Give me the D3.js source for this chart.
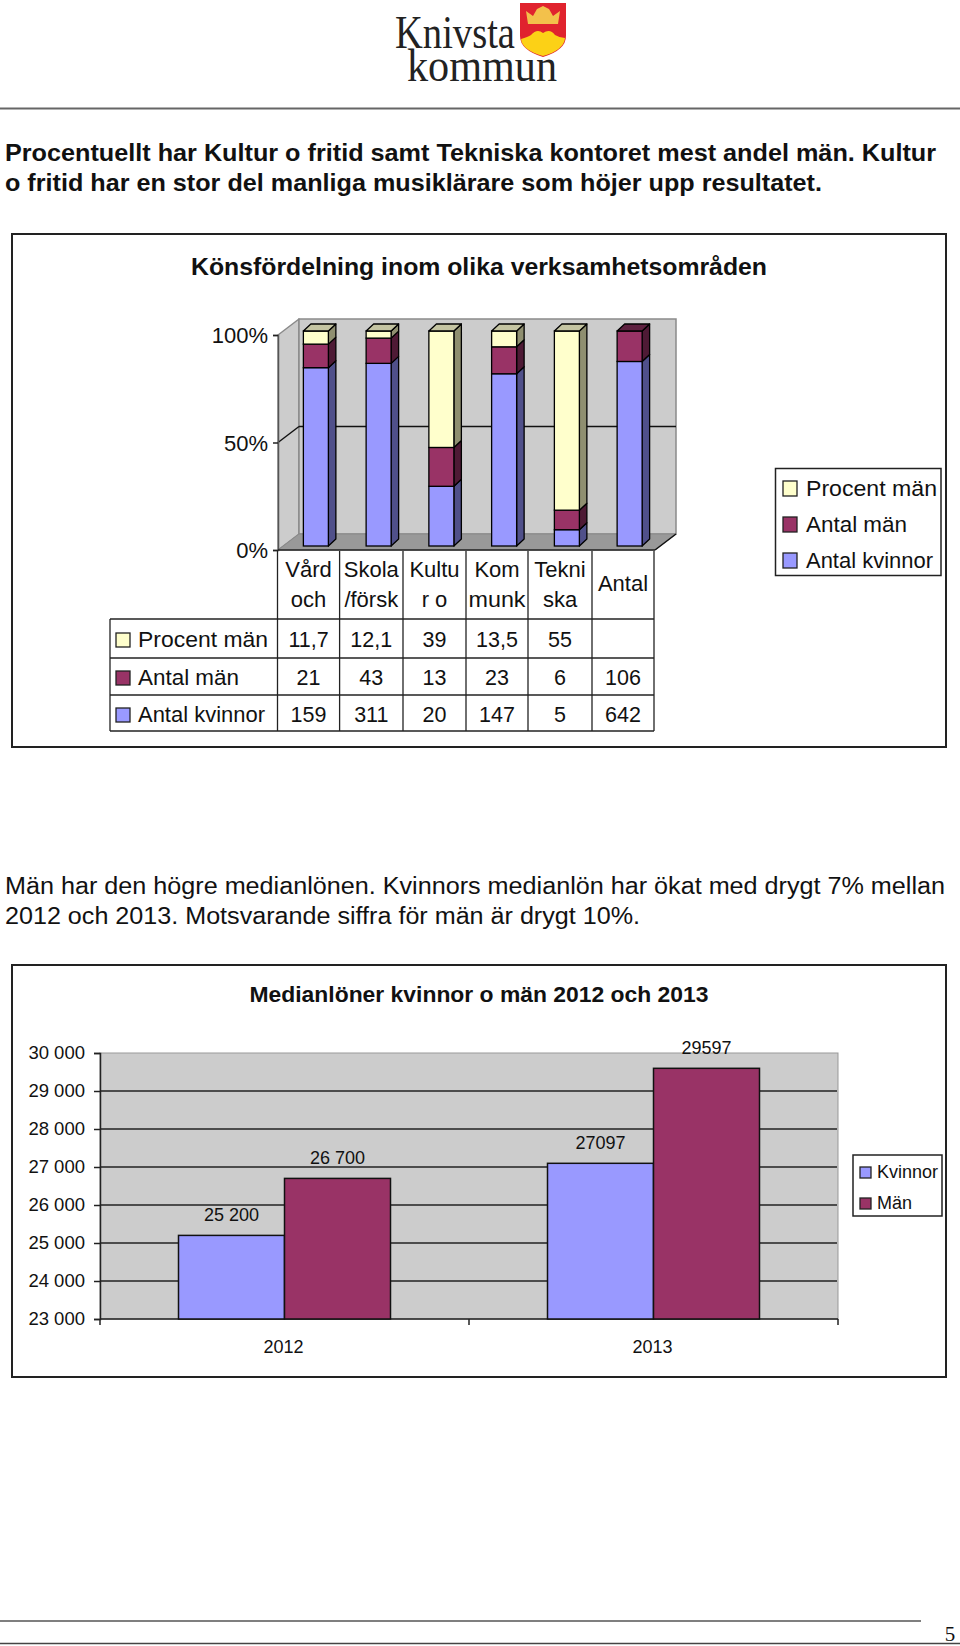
<!DOCTYPE html>
<html><head><meta charset="utf-8">
<script src="https://cdnjs.cloudflare.com/ajax/libs/d3/7.8.5/d3.min.js"></script>
<style>html,body{margin:0;padding:0;background:#fff}svg{display:block}text{font-family:"Liberation Sans",Arial,sans-serif;fill:#111}</style>
</head><body><svg id="c" width="960" height="1646"></svg>
<script>
const intro1 = ["Procentuellt har Kultur o fritid samt Tekniska kontoret mest andel män. Kultur","o fritid har en stor del manliga musiklärare som höjer upp resultatet."];
const intro2 = ["Män har den högre medianlönen. Kvinnors medianlön har ökat med drygt 7% mellan","2012 och 2013. Motsvarande siffra för män är drygt 10%."];
const title1 = "Könsfördelning inom olika verksamhetsområden";
const title2 = "Medianlöner kvinnor o män 2012 och 2013";
const areaLabels = [["Vård","och"],["Skola","/försk"],["Kultu","r o"],["Kom","munk"],["Tekni","ska"],["Antal"]];
const areaKeys = ["Vård","Skola","Kultur","Kommunk","Tekniska","Antal"];
const procentMan = [11.7,12.1,39,13.5,55,null];
const antalMan = [21,43,13,23,6,106];
const antalKvinnor = [159,311,20,147,5,642];
const procentLabels = ["11,7","12,1","39","13,5","55",""];
const pctTicks = [0,0.5,1];
const seriesNames = ["Procent män","Antal män","Antal kvinnor"];
const years = ["2012","2013"];
const salarySeries = ["Kvinnor","Män"];
const lonKvinnor = [25200,27097];
const lonMan = [26700,29597];
const lonLabelsKvinnor = ["25 200","27097"];
const lonLabelsMan = ["26 700","29597"];
const salaryTicks = [23000,24000,25000,26000,27000,28000,29000,30000];

const BLUE="#9999ff",RED="#993366",YEL="#ffffcc";
const svg=d3.select("#c");
const T=(p,x,y,s,size,o={})=>{const t=p.append("text").attr("x",x).attr("y",y).attr("font-size",size).text(s);
  if(o.anchor)t.attr("text-anchor",o.anchor); if(o.bold)t.attr("font-weight","bold"); if(o.family)t.style("font-family",o.family);
  if(o.fill)t.style("fill",o.fill);
  if(o.len)t.attr("textLength",o.len).attr("lengthAdjust","spacingAndGlyphs"); return t;};
const L=(p,x1,y1,x2,y2,c,w)=>p.append("line").attr("x1",x1).attr("y1",y1).attr("x2",x2).attr("y2",y2).attr("stroke",c).attr("stroke-width",w);
const R=(p,x,y,w,h,f,s,sw)=>p.append("rect").attr("x",x).attr("y",y).attr("width",w).attr("height",h).attr("fill",f).attr("stroke",s||"none").attr("stroke-width",sw||0);
const P=(p,pts,f,s,sw)=>p.append("polygon").attr("points",pts.map(d=>d.join(",")).join(" ")).attr("fill",f).attr("stroke",s||"none").attr("stroke-width",sw||0).attr("stroke-linejoin","round");

// header / logo
const logo=svg.append("g");
T(logo,395,48,"Knivsta",47,{family:"'Liberation Serif',serif",len:120,fill:"#222"});
T(logo,407,81,"kommun",46,{family:"'Liberation Serif',serif",len:150,fill:"#222"});
logo.append("path").attr("d","M520,3H566V36Q566,50 543,57Q520,50 520,36Z").attr("fill","#e0232e");
logo.append("path").attr("d","M521,39Q528,37 531,35Q537,28 543,33Q550,28 555,35Q560,38 565,38Q564,50 543,56Q522,50 521,39Z").attr("fill","#fcd116");
logo.append("path").attr("d","M528,24L526,11L533,16L537,9L543,6L549,9L553,16L560,11L558,24Z").attr("fill","#f3c14b");
L(svg,0,108.5,960,108.5,"#666",2);

intro1.forEach((s,i)=>T(svg,5,[161,191][i],s,24.5,{bold:true,len:i==0?931:817}));
intro2.forEach((s,i)=>T(svg,5,[894,924][i],s,23.5,{len:i==0?940:635}));

// ---------- chart 1
const f1=svg.append("g");
R(f1,12,234,934,513,"#fff","#222",2);
T(f1,479,275,title1,23,{anchor:"middle",bold:true,len:576});

const dx=21,dy=16;
const y1=d3.scaleLinear().domain([0,1]).range([550,335]);
const x1=d3.scaleBand().domain(areaKeys).range([277.5,654]);
// walls
P(f1,[[278,y1(0)],[278+dx,y1(0)-dy],[278+dx,y1(1)-dy],[278,y1(1)]],"#cccccc","#8a8a8a",1.5);
R(f1,278+dx,y1(1)-dy,655-278,y1(0)-y1(1),"#cccccc","#8a8a8a",1.5);
P(f1,[[278,y1(0)],[278+dx,y1(0)-dy],[655+dx,y1(0)-dy],[655,y1(0)]],"#999999","#8a8a8a",1);
// gridline 50%
L(f1,278,y1(.5),278+dx,y1(.5)-dy,"#111",1.5);
L(f1,278+dx,y1(.5)-dy,655+dx,y1(.5)-dy,"#111",1.5);
L(f1,655,y1(0),655+dx,y1(0)-dy,"#111",1.5);
// axis
const ax1=f1.append("g").attr("transform","translate(278,0)").call(d3.axisLeft(y1).tickValues(pctTicks).tickFormat(d3.format(".0%")).tickSize(5).tickPadding(5));
ax1.select(".domain").attr("stroke","#555").attr("stroke-width",1.5);
ax1.selectAll(".tick line").attr("stroke","#222").attr("stroke-width",1.5);
ax1.selectAll("text").attr("font-size",22).style("font-family","'Liberation Sans'").attr("dy","0.36em").style("fill","#111");
L(f1,278,y1(0),655,y1(0),"#222",1.5);

// stacked bars
const stackRows=areaKeys.map((k,i)=>({k,"Antal kvinnor":antalKvinnor[i],"Antal män":antalMan[i],"Procent män":procentMan[i]||0}));
const stacked=d3.stack().keys(["Antal kvinnor","Antal män","Procent män"]).offset(d3.stackOffsetExpand)(stackRows);
const pal={"Antal kvinnor":[BLUE,"#50508a",BLUE],"Antal män":[RED,"#4e1a35","#5e2140"],"Procent män":[YEL,"#8f8f70","#c4c4a2"]};
const bw=25,bdx=7.5,bdy=7,ox=7,oy=-4;
areaKeys.forEach((k,i)=>{
  const X=x1(k)+x1.bandwidth()/2+ox-bw/2, g=f1.append("g");
  stacked.forEach(s=>{
    const d=s[i]; if(d[1]-d[0]<=0)return;
    const top=y1(d[1])+oy,bot=y1(d[0])+oy,c=pal[s.key];
    P(g,[[X+bw,top],[X+bw+bdx,top-bdy],[X+bw+bdx,bot-bdy],[X+bw,bot]],c[1],"#000",1.3);
    R(g,X,top,bw,bot-top,c[0],"#000",1.3);
    if(d[1]>=0.9999)P(g,[[X,top],[X+bdx,top-bdy],[X+bw+bdx,top-bdy],[X+bw,top]],c[2],"#000",1.3);
  });
});

// data table
const tb=f1.append("g"), xs=[277.5,339.6,403,466,528,592,654], rowY=[619,658,695,731], base=[647,685,722];
const col=i=>(xs[i]+xs[i+1])/2;
const wideLabels={"munk":57};
areaLabels.forEach((l,i)=>{
  if(l.length==2){T(tb,col(i),577,l[0],22,{anchor:"middle"});T(tb,col(i),607,l[1],22,{anchor:"middle",len:wideLabels[l[1]]});}
  else T(tb,col(i),591,l[0],22,{anchor:"middle"});
});
xs.forEach((x,i)=>L(tb,x,551,x,731,"#222",1.3));
L(tb,110,619,110,731,"#222",1.3);
rowY.forEach(y=>L(tb,110,y,654,y,"#222",1.3));
const tableRows=[procentLabels,antalMan.map(String),antalKvinnor.map(String)];
const cols=[YEL,RED,BLUE];
const rowLens=[130,101,127];
tableRows.forEach((r,j)=>{
  R(tb,116,base[j]-14,14,14,cols[j],"#222",1.3);
  T(tb,138,base[j],seriesNames[j],22,{len:rowLens[j]});
  r.forEach((v,i)=>T(tb,col(i),base[j],v,21.5,{anchor:"middle"}));
});
// legend
const lg=f1.append("g");
const legendLens=[131,101,127];
R(lg,775.5,468.5,165.5,107,"#fff","#222",1.5);
seriesNames.forEach((s,j)=>{
  const y=[496,532,568][j];
  R(lg,783,y-15,14,15,cols[j],"#222",1.3);
  T(lg,806,y,s,22,{len:legendLens[j]});
});

// ---------- chart 2
const f2=svg.append("g");
R(f2,12,965,934,412,"#fff","#222",2);
T(f2,479,1002,title2,22,{anchor:"middle",bold:true,len:459});
const y2=d3.scaleLinear().domain([23000,30000]).range([1319,1053]);
const x2=d3.scaleBand().domain(years).range([100,838]);
const x2i=d3.scaleBand().domain(salarySeries).range([78.5,290.5]);
R(f2,100,1053,738,266,"#cccccc","#999",1);
const ax2=f2.append("g").attr("transform","translate(100,0)").call(d3.axisLeft(y2).tickValues(salaryTicks).tickFormat(d=>d3.format(",")(d).replace(","," ")).tickSize(6).tickPadding(9));
ax2.selectAll(".tick line").attr("stroke","#222").attr("stroke-width",1.5);
ax2.select(".domain").attr("stroke","#222").attr("stroke-width",1.5);
ax2.selectAll("text").attr("font-size",18.5).style("font-family","'Liberation Sans'").attr("dy","0.32em").style("fill","#111");
f2.selectAll(null).data(salaryTicks.slice(1,-1)).enter().append("line").attr("x1",100).attr("x2",837).attr("y1",d=>y2(d)).attr("y2",d=>y2(d)).attr("stroke","#222").attr("stroke-width",1.5);
const ax2b=f2.append("g").attr("transform","translate(0,1319)");
L(ax2b,100,0,838,0,"#222",1.5);
[100,469,838].forEach(x=>L(ax2b,x,0,x,6,"#222",1.5));
years.forEach((yr,i)=>{
  T(f2,x2(yr)+x2.bandwidth()/2-1,1353,yr,18,{anchor:"middle"});
  [[lonKvinnor,BLUE,lonLabelsKvinnor,"Kvinnor"],[lonMan,RED,lonLabelsMan,"Män"]].forEach(([vals,c,labs,name])=>{
    const X=x2(yr)+x2i(name),w=x2i.bandwidth();
    R(f2,X,y2(vals[i]),w,1319-y2(vals[i]),c,"#111",1.5);
    T(f2,X+w/2,y2(vals[i])-14,labs[i],18,{anchor:"middle"});
  });
});
const lg2=f2.append("g");
R(lg2,853,1155,89,61,"#fff","#222",1.5);
salarySeries.forEach((s,j)=>{
  const y=[1178,1209][j];
  R(lg2,860,y-11,11,11,[BLUE,RED][j],"#222",1.3);
  T(lg2,877,y,s,18);
});

// footer
L(svg,0,1621,921,1621,"#555",1.5);
L(svg,0,1643.5,960,1643.5,"#444",1.5);
T(svg,950,1641,"5",21,{anchor:"middle",family:"'Liberation Serif',serif"});
</script></body></html>
